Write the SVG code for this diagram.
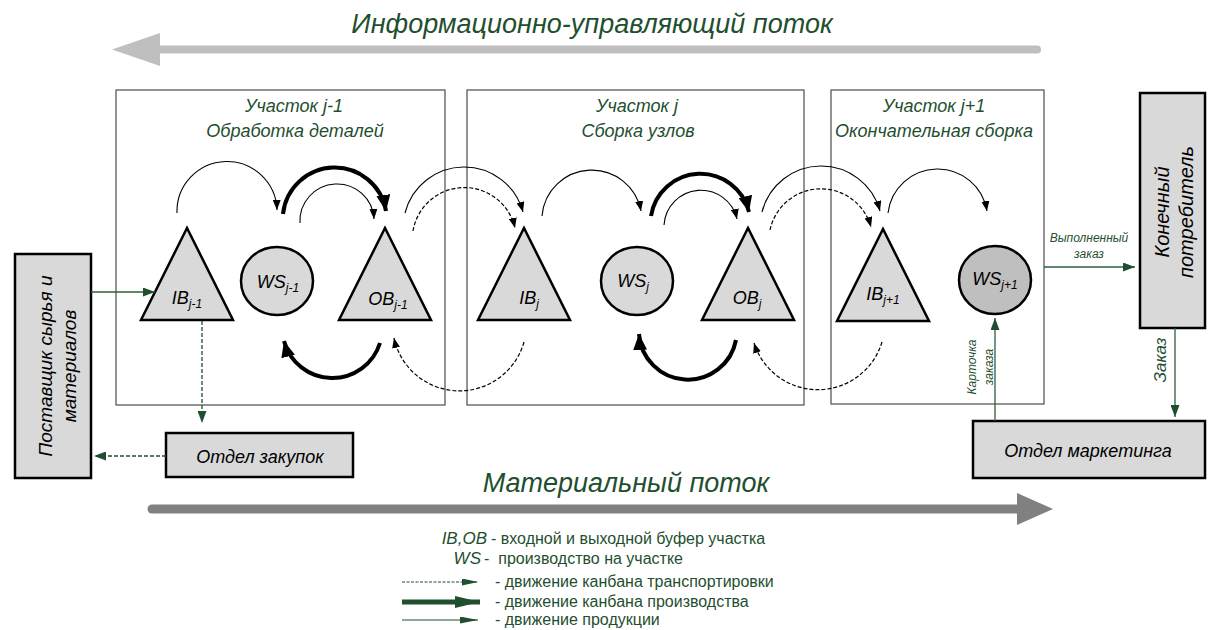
<svg xmlns="http://www.w3.org/2000/svg" width="1208" height="630" viewBox="0 0 1208 630">
<style>
.t{font-family:"Liberation Sans",Arial,sans-serif;font-style:italic}
.n{font-family:"Liberation Sans",Arial,sans-serif;white-space:pre}
.g{fill:#1f4f2f}
.k{fill:#000}
.sec{fill:none;stroke:#595959;stroke-width:1.3}
.nd{fill:#d9d9d9;stroke:#000;stroke-width:2.5}
.ext{fill:#d9d9d9;stroke:#000;stroke-width:2.5}
.thin{fill:none;stroke:#000;stroke-width:1.1;marker-end:url(#ah)}
.thick{fill:none;stroke:#000;stroke-width:4;marker-end:url(#ahB)}
.dash{fill:none;stroke:#000;stroke-width:1.2;stroke-dasharray:4 2;marker-end:url(#ah)}
.gl{fill:none;stroke:#2d5f3c;stroke-width:1.3;marker-end:url(#ahG)}
.gd{fill:none;stroke:#1f4f2f;stroke-width:1.3;stroke-dasharray:4 2;marker-end:url(#ahG)}
</style>
<defs>
<marker id="ah" viewBox="0 0 10 8" markerUnits="userSpaceOnUse" markerWidth="10" markerHeight="8" refX="10" refY="4" orient="auto"><path d="M0,0 L10,4 L0,8 z" fill="#000"/></marker>
<marker id="ahB" viewBox="0 0 16 14" markerUnits="userSpaceOnUse" markerWidth="16" markerHeight="14" refX="16" refY="7" orient="auto"><path d="M0,0 L16,7 L0,14 z" fill="#000"/></marker>
<marker id="ahG" viewBox="0 0 12 9" markerUnits="userSpaceOnUse" markerWidth="12" markerHeight="9" refX="12" refY="4.5" orient="auto"><path d="M0,0 L12,4.5 L0,9 z" fill="#1f4f2f"/></marker>
<marker id="lgD" viewBox="0 0 16 7" markerUnits="userSpaceOnUse" markerWidth="16" markerHeight="7" refX="16" refY="3.5" orient="auto"><path d="M0,0 L16,3.5 L0,7 z" fill="#1f4f2f"/></marker>
<marker id="lgB" viewBox="0 0 25 12" markerUnits="userSpaceOnUse" markerWidth="25" markerHeight="12" refX="25" refY="6" orient="auto"><path d="M0,0 L25,6 L0,12 z" fill="#1f4f2f"/></marker>
<marker id="lgT" viewBox="0 0 18 7" markerUnits="userSpaceOnUse" markerWidth="18" markerHeight="7" refX="18" refY="3.5" orient="auto"><path d="M0,0 L18,3.5 L0,7 z" fill="#1f4f2f"/></marker>
</defs>
<rect width="1208" height="630" fill="#fff"/>

<g id="info-flow">
<text class="t g" x="592" y="33" font-size="27" text-anchor="middle">Информационно-управляющий поток</text>
<line x1="1037" y1="49.5" x2="156" y2="49.5" stroke="#bfbfbf" stroke-width="8" stroke-linecap="round"/>
<path d="M112,49.5 L160,33 L160,66 z" fill="#bfbfbf"/>
</g>

<g id="section-j-1">
<rect class="sec" x="116" y="90" width="329" height="315"/>
<text class="t g" x="294" y="112" font-size="18" text-anchor="middle">Участок j-1</text>
<text class="t g" x="295" y="137" font-size="18" text-anchor="middle">Обработка деталей</text>
</g>
<g id="section-j">
<rect class="sec" x="467" y="90" width="337" height="315"/>
<text class="t g" x="637" y="112" font-size="18" text-anchor="middle">Участок j</text>
<text class="t g" x="638" y="137" font-size="18" text-anchor="middle">Сборка узлов</text>
</g>
<g id="section-j+1">
<rect class="sec" x="831" y="90" width="213" height="314"/>
<text class="t g" x="934" y="112" font-size="18" text-anchor="middle">Участок j+1</text>
<text class="t g" x="934" y="137" font-size="18" text-anchor="middle">Окончательная сборка</text>
</g>

<g id="IB_j-1">
<path class="nd" d="M187,228 L141,320 L233,320 z"/>
<text class="t k" x="187" y="304" font-size="18" text-anchor="middle">IB<tspan font-size="12" dy="4">j-1</tspan></text>
</g>
<g id="WS_j-1">
<ellipse class="nd" cx="277" cy="281" rx="36" ry="34"/>
<text class="t k" x="278" y="288" font-size="18" text-anchor="middle">WS<tspan font-size="12" dy="4">j-1</tspan></text>
</g>
<g id="OB_j-1">
<path class="nd" d="M385,228 L339,320 L431,320 z"/>
<text class="t k" x="388" y="305" font-size="18" text-anchor="middle">OB<tspan font-size="12" dy="4">j-1</tspan></text>
</g>
<g id="IB_j">
<path class="nd" d="M524,228 L478,320 L570,320 z"/>
<text class="t k" x="529" y="304" font-size="18" text-anchor="middle">IB<tspan font-size="12" dy="4">j</tspan></text>
</g>
<g id="WS_j">
<ellipse class="nd" cx="637" cy="281" rx="36" ry="34"/>
<text class="t k" x="633" y="287" font-size="18" text-anchor="middle">WS<tspan font-size="12" dy="4">j</tspan></text>
</g>
<g id="OB_j">
<path class="nd" d="M748,228 L702,320 L794,320 z"/>
<text class="t k" x="747" y="304" font-size="18" text-anchor="middle">OB<tspan font-size="12" dy="4">j</tspan></text>
</g>
<g id="IB_j+1">
<path class="nd" d="M883,229 L837,321 L929,321 z"/>
<text class="t k" x="883" y="300" font-size="18" text-anchor="middle">IB<tspan font-size="12" dy="4">j+1</tspan></text>
</g>
<g id="WS_j+1">
<ellipse cx="995" cy="280" rx="36" ry="34" fill="#bfbfbf" stroke="#000" stroke-width="2.5"/>
<text class="t k" x="995" y="285" font-size="18" text-anchor="middle">WS<tspan font-size="12" dy="4">j+1</tspan></text>
</g>

<g id="supplier">
<rect class="ext" x="15" y="254" width="76" height="224"/>
<text class="t k" font-size="19" text-anchor="middle" transform="translate(52,366) rotate(-90)">Поставщик сырья и</text>
<text class="t k" font-size="19" text-anchor="middle" transform="translate(76,366) rotate(-90)">материалов</text>
</g>
<g id="purchasing">
<rect class="ext" x="166" y="433" width="187" height="44"/>
<text class="t k" x="260" y="463" font-size="18" text-anchor="middle">Отдел закупок</text>
</g>
<g id="consumer">
<rect class="ext" x="1140" y="93" width="65" height="235"/>
<text class="t k" font-size="20" text-anchor="middle" transform="translate(1169,212) rotate(-90)">Конечный</text>
<text class="t k" font-size="20" text-anchor="middle" transform="translate(1193,212) rotate(-90)">потребитель</text>
</g>
<g id="marketing">
<rect class="ext" x="973" y="421" width="232" height="57"/>
<text class="t k" x="1088" y="457" font-size="18" text-anchor="middle">Отдел маркетинга</text>
</g>

<g id="connectors">
<path class="thin" d="M177,213 A50,50 0 0 1 277,210"/>
<path class="thick" d="M283,214 A52,52 0 0 1 386,211"/>
<path class="thin" d="M300,223 A37,37 0 0 1 374,219"/>
<path class="thick" d="M380,343 A50,50 0 0 1 284,341"/>
<path class="thin" d="M405,213 A61,61 0 0 1 523,212"/>
<path class="dash" d="M413,231 A52,52 0 0 1 515,228"/>
<path class="dash" d="M524,342 A67,67 0 0 1 394,338"/>
<path class="thin" d="M542,216 A50,50 0 0 1 641,211"/>
<path class="thick" d="M651,216 A50,50 0 0 1 749,212"/>
<path class="thin" d="M664,225 A37,37 0 0 1 737,219"/>
<path class="thick" d="M736,340 A49,49 0 0 1 639,334"/>
<path class="thin" d="M762,212 A61,61 0 0 1 880,211"/>
<path class="dash" d="M770,230 A52,52 0 0 1 871,227"/>
<path class="dash" d="M882,342 A67,67 0 0 1 754,343"/>
<path class="thin" d="M888,213 A50,50 0 0 1 987,211"/>
<path class="gl" d="M91,292 L155,292"/>
<path class="gd" d="M202,321 L202,423"/>
<path class="gd" d="M166,456 L94,456"/>
<path class="gl" d="M1044,267 L1135,267"/>
<path class="gl" d="M1175,328 L1175,417"/>
<path class="gl" d="M995,421 L995,318"/>
<text class="t g" x="1089" y="242" font-size="12" text-anchor="middle">Выполненный</text>
<text class="t g" x="1089" y="258" font-size="12" text-anchor="middle">заказ</text>
<text class="t g" font-size="17" text-anchor="middle" transform="translate(1166,360) rotate(-90)">Заказ</text>
<text class="t g" font-size="12" text-anchor="middle" transform="translate(976,367) rotate(-90)">Карточка</text>
<text class="t g" font-size="12" text-anchor="middle" transform="translate(993,367) rotate(-90)">заказа</text>
</g>

<g id="material-flow">
<text class="t g" x="626" y="492" font-size="27" text-anchor="middle">Материальный поток</text>
<line x1="152" y1="509" x2="1020" y2="509" stroke="#808080" stroke-width="9" stroke-linecap="round"/>
<path d="M1017,493 L1053,509 L1017,525 z" fill="#808080"/>
</g>

<g id="legend">
<text class="t g" x="487" y="544" font-size="17" text-anchor="end">IB,OB</text>
<text class="n g" x="491" y="544" font-size="16">- входной и выходной буфер участка</text>
<text class="t g" x="481" y="564" font-size="17" text-anchor="end">WS</text>
<text class="n g" x="484" y="564" font-size="16">-  производство на участке</text>
<path d="M402,582 L478,582" fill="none" stroke="#1f4f2f" stroke-width="1" stroke-dasharray="3 1.5" marker-end="url(#lgD)"/>
<text class="n g" x="495" y="587" font-size="16">- движение канбана транспортировки</text>
<path d="M402,602 L480,602" fill="none" stroke="#1f4f2f" stroke-width="5" marker-end="url(#lgB)"/>
<text class="n g" x="495" y="607" font-size="16">- движение канбана производства</text>
<path d="M402,620 L478,620" fill="none" stroke="#1f4f2f" stroke-width="1.2" marker-end="url(#lgT)"/>
<text class="n g" x="495" y="625" font-size="16">- движение продукции</text>
</g>
</svg>
